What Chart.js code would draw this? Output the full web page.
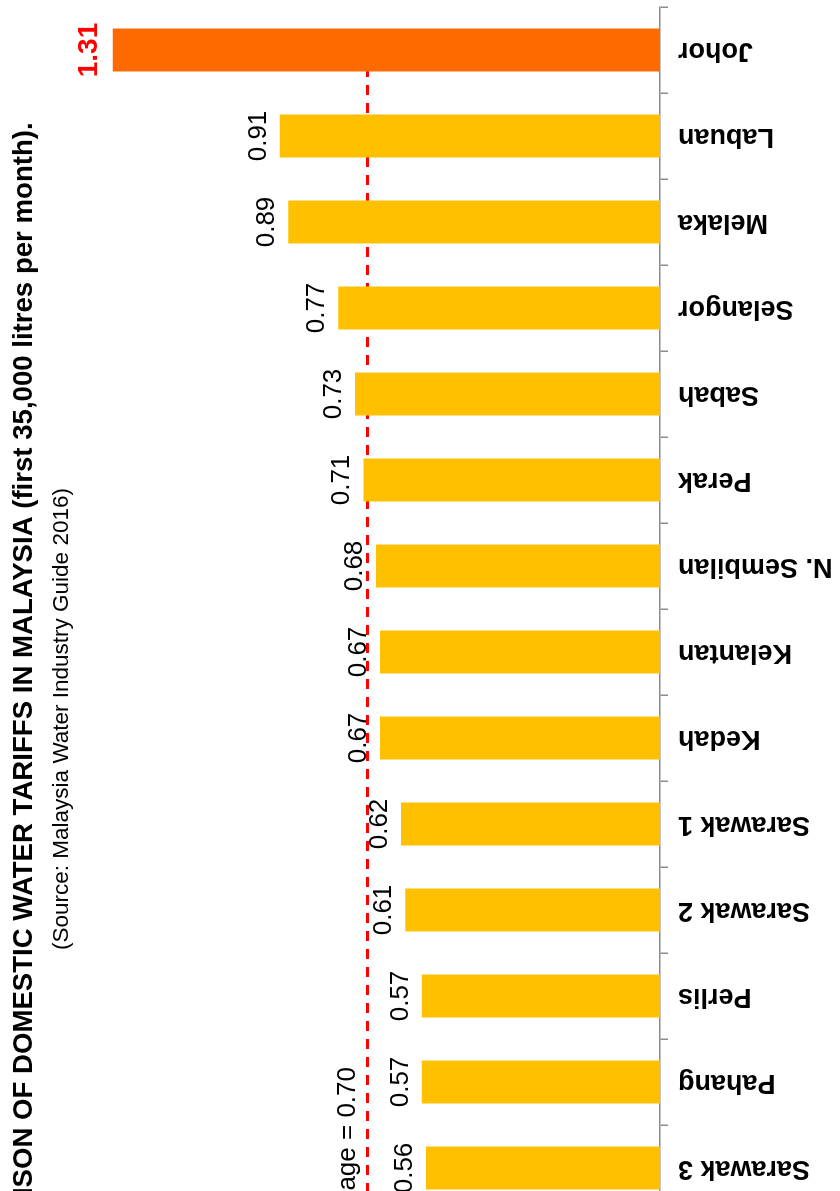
<!DOCTYPE html>
<html>
<head>
<meta charset="utf-8">
<script src="https://cdn.jsdelivr.net/npm/chart.js@4.4.0/dist/chart.umd.min.js"></script>
<style>
	html, body { margin:0; padding:0; background:#fff; overflow:hidden; }
	body { width:840px; height:1191px; position:relative; }
	/* chart is drawn upright, then the whole canvas is turned 90deg to the left */
	#wrap { position:absolute; left:0; top:0; width:1431px; height:900px; transform-origin:0 0; transform:translate(0px, 1431px) rotate(-90deg); }
</style>
</head>
<body>
<div id="wrap"><canvas id="myChart" width="1431" height="900"></canvas></div>
<script>
var states = ["Sarawak 3", "Pahang", "Perlis", "Sarawak 2", "Sarawak 1", "Kedah", "Kelantan", "N. Sembilan", "Perak", "Sabah", "Selangor", "Melaka", "Labuan", "Johor"];
var tariffs = [0.56, 0.57, 0.57, 0.61, 0.62, 0.67, 0.67, 0.68, 0.71, 0.73, 0.77, 0.89, 0.91, 1.31];
var average = 0.70;

var titleText = "COMPARISON OF DOMESTIC WATER TARIFFS IN MALAYSIA (first 35,000 litres per month).";
var sourceText = "(Source: Malaysia Water Industry Guide 2016)";

Chart.defaults.font.family = "'Liberation Sans', Arial, sans-serif";
Chart.defaults.color = '#000';

var top1 = tariffs.indexOf(Math.max.apply(null, tariffs));

// average line + value labels
var labelsPlugin = {
	id: 'tariffLabels',
	beforeDatasetsDraw: function(chart) {
		var ctx = chart.ctx;
		var area = chart.chartArea;
		var bars = chart.getDatasetMeta(0).data;
		var last = bars[bars.length - 1];
		var py = chart.scales.y.getPixelForValue(average);
		ctx.save();
		ctx.strokeStyle = '#ff0000';
		ctx.lineWidth = 3;
		ctx.setLineDash([10, 8]);
		ctx.beginPath();
		ctx.moveTo(area.left, py);
		ctx.lineTo(last.x + last.width / 2, py);
		ctx.stroke();
		ctx.restore();
	},
	afterDatasetsDraw: function(chart) {
		var ctx = chart.ctx;
		var bars = chart.getDatasetMeta(0).data;
		var py = chart.scales.y.getPixelForValue(average);
		ctx.save();
		ctx.textAlign = 'center';
		ctx.textBaseline = 'alphabetic';
		bars.forEach(function(bar, i) {
			if (i === top1) {
				ctx.fillStyle = '#ff0000';
				ctx.font = "bold 28px 'Liberation Sans', Arial";
				ctx.fillText(tariffs[i].toFixed(2), bar.x, bar.y - 16);
			} else {
				ctx.fillStyle = '#000';
				ctx.font = "26px 'Liberation Sans', Arial";
				ctx.fillText(tariffs[i].toFixed(2), bar.x, bar.y - 14);
			}
		});
		ctx.fillStyle = '#000';
		ctx.font = "26px 'Liberation Sans', Arial";
		ctx.textAlign = 'right';
		ctx.fillText('Average = ' + average.toFixed(2), bars[1].x + 15, py - 13);
		ctx.restore();
	}
};

var ctx = document.getElementById('myChart').getContext('2d');
var chart = new Chart(ctx, {
	type: 'bar',
	data: {
		labels: states,
		datasets: [{
			data: tariffs,
			backgroundColor: function(c) { return c.dataIndex === top1 ? '#ff6a00' : '#ffc000'; },
			borderWidth: 0,
			barPercentage: 0.5,
			categoryPercentage: 1.0
		}]
	},
	options: {
		responsive: false,
		animation: false,
		layout: { padding: { left: 0, right: 7, top: 0, bottom: 40 } },
		scales: {
			x: {
				grid: { display: true, drawOnChartArea: false, drawTicks: true, tickLength: 8, color: '#8c8c8c', lineWidth: 1.5 },
				border: { display: true, color: '#8c8c8c', width: 1.5 },
				ticks: {
					autoSkip: false,
					minRotation: 90,
					maxRotation: 90,
					padding: 10,
					color: '#000',
					font: { size: 27, weight: 'bold' }
				},
				afterFit: function(scale) {
					scale.height = 200;
					scale.paddingLeft = 220;
					scale.paddingRight = 0;
				}
			},
			y: {
				display: false,
				min: 0,
				max: 1.4
			}
		},
		plugins: {
			legend: { display: false },
			tooltip: { enabled: false },
			title: {
				display: true,
				text: titleText,
				font: { size: 27.6, weight: 'bold' },
				padding: { top: 8, bottom: 2 }
			},
			subtitle: {
				display: true,
				text: sourceText,
				font: { size: 22.5 },
				padding: { top: 5, bottom: 0 }
			}
		}
	},
	plugins: [labelsPlugin]
});
</script>
</body>
</html>
